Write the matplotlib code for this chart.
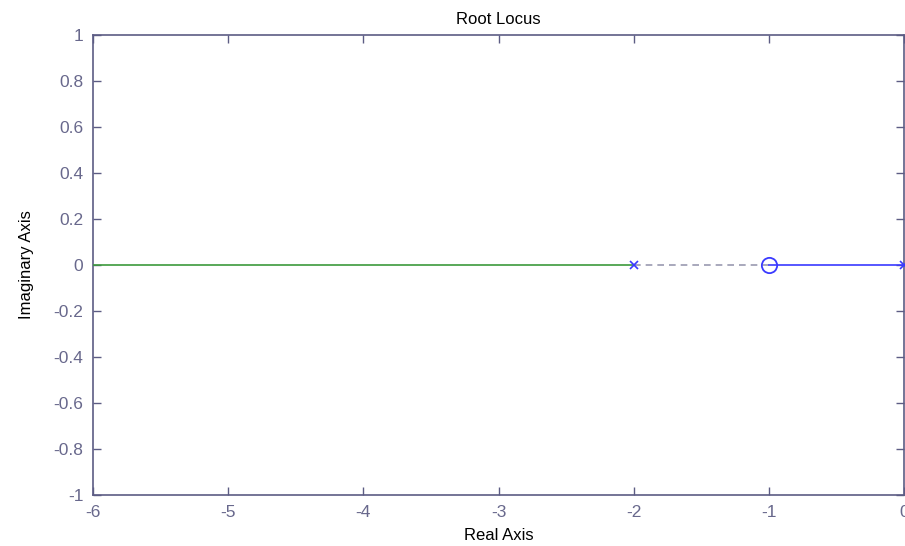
import matplotlib
matplotlib.use("Agg")
import matplotlib.pyplot as plt

# root locus data
branch1_re = [-6, -2]
branch1_im = [0, 0]
branch2_re = [-1, 0]
branch2_im = [0, 0]
asym_re = [-2, -1]
asym_im = [0, 0]
poles_re = [-2, 0]
poles_im = [0, 0]
zeros_re = [-1]
zeros_im = [0]

xticks = [-6, -5, -4, -3, -2, -1, 0]
yticks = [-1, -0.8, -0.6, -0.4, -0.2, 0, 0.2, 0.4, 0.6, 0.8, 1]

plt.rcParams['font.family'] = ['Liberation Sans', 'DejaVu Sans']
axcol = '#5c5c84'

fig = plt.figure(figsize=(9.05, 5.46), dpi=100)
ax = fig.add_axes([0.1028, 0.0934, 0.8962, 0.8426])

ax.plot(asym_re, asym_im, color='#9a9ab0', linestyle=(0, (4, 3)), linewidth=1.2, zorder=2)
ax.plot(branch1_re, branch1_im, color='#3c9a3c', linewidth=1.2, zorder=3)
ax.plot(branch2_re, branch2_im, color='#3a3aff', linewidth=1.2, zorder=3)
ax.plot(poles_re, poles_im, linestyle='none', marker='x', color='#3a3aff',
        markersize=6, markeredgewidth=1.2, zorder=4, clip_on=False)
ax.plot(zeros_re, zeros_im, linestyle='none', marker='o', markerfacecolor='none',
        markeredgecolor='#3a3aff', markersize=11, markeredgewidth=1.3, zorder=4)

ax.set_xlim(-6, 0)
ax.set_ylim(-1, 1)
ax.set_xticks(xticks)
ax.set_xticklabels([f'{t:g}' for t in xticks])
ax.set_yticks(yticks)
ax.set_yticklabels([f'{t:g}' for t in yticks])

for s in ax.spines.values():
    s.set_color(axcol)
    s.set_linewidth(1.2)
ax.tick_params(direction='in', top=True, right=True, length=6, width=1,
               color=axcol, labelcolor='#68688c', labelsize=12.5, pad=7)

ax.set_title('Root Locus', fontsize=12, pad=8)
ax.set_xlabel('Real Axis', fontsize=12, labelpad=6)
ax.set_ylabel('Imaginary Axis', fontsize=12, labelpad=14)

fig.savefig('out.png', dpi=100)
